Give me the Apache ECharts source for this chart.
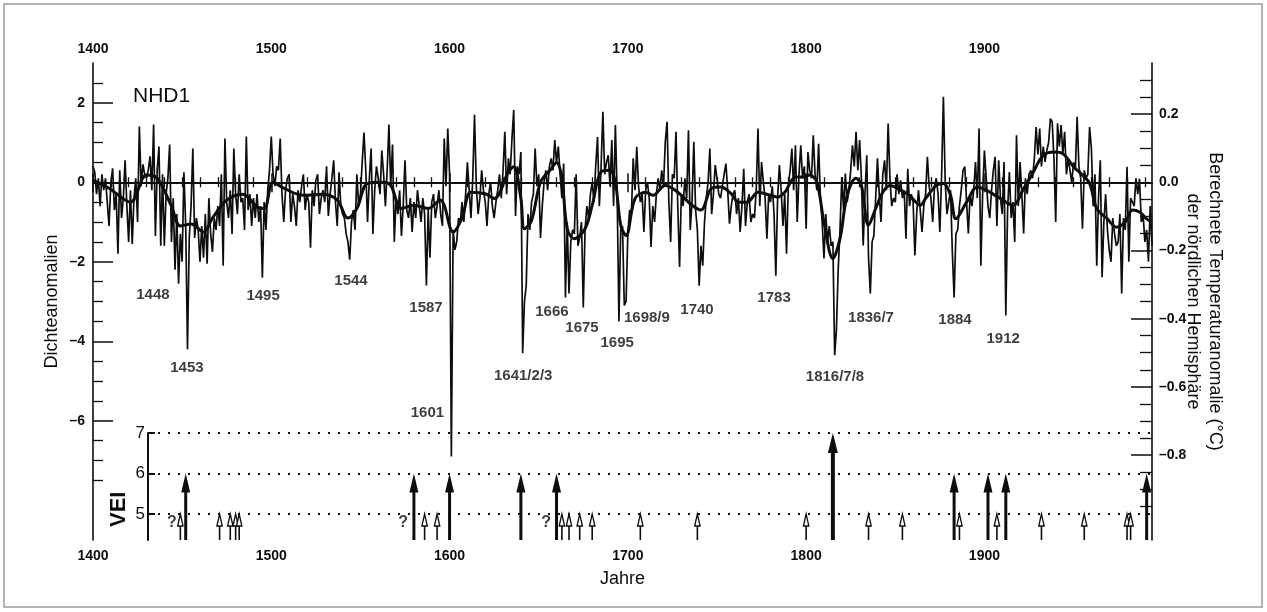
<!DOCTYPE html>
<html>
<head>
<meta charset="utf-8">
<script src="https://cdn.jsdelivr.net/npm/echarts@6/dist/echarts.min.js"></script>
<style>
  html, body { margin: 0; padding: 0; background: #fff; }
  #chart { width: 1267px; height: 612px; }
</style>
</head>
<body>
<div id="chart"></div>
<script>
// Jahreswerte der Dichteanomalien (NHD1), 1400 bis 1994
const startYear = 1400;
const density = [
  0.4, 0.25, -0.3, 0.1, -0.6, 0.2, -0.2, 0.1, -0.5, -1.1,        // 1400
  0.0, 0.35, -0.7, -0.3, -1.8, 0.3, -0.9, -0.4, 0.55, -0.6,      // 1410
  -1.5, -0.2, -1.55, -0.4, 0.1, -1.0, 1.4, -0.1, 0.45, 0.2,      // 1420
  0.1, 0.3, 0.65, -0.2, 1.45, -1.35, 0.3, 0.9, -1.6, 0.2,        // 1430
  -1.6, -0.3, 0.1, 0.95, -1.5, -0.4, -2.2, -0.8, -2.55, -1.3,    // 1440
  -2.0, 0.25, -1.1, -4.2, -1.4, -0.6, 0.85, -1.4, -0.9, -1.2,    // 1450
  -2.0, -1.1, -1.9, -0.8, -2.05, -0.4, -1.3, -1.75, -0.9, -1.2,  // 1460
  -0.6, -1.1, 0.2, -2.1, 1.1, -0.5, -0.9, -0.2, -1.3, 0.85,      // 1470
  -0.3, -0.8, 0.2, -0.5, -0.4, -1.2, 1.15, -0.7, -0.3, -1.1,     // 1480
  -0.4, -0.9, -0.3, -1.0, -0.6, -2.4, -0.5, -1.2, -0.2, 0.3,     // 1490
  1.15, 0.2, -0.1, 0.4, 0.3, 1.1, -0.3, -1.0, -0.2, 0.1,         // 1500
  0.2, -1.0, -0.3, -0.6, -1.1, -0.2, -0.5, -0.1, 0.2, -0.7,      // 1510
  -0.3, -0.5, -1.65, -0.2, -0.6, 0.05, 0.2, -0.8, -0.4, -0.2,    // 1520
  -0.5, 0.4, -0.85, -0.3, 0.1, 0.55, -0.5, -1.1, 0.25, -0.6,     // 1530
  -0.8, -0.9, -1.3, -1.5, -1.95, -1.0, -0.7, -1.2, 0.2, -0.6,    // 1540
  -0.3, 0.5, 1.25, 0.3, -1.0, 0.1, 0.85, -1.3, -0.2, 0.4,        // 1550
  0.1, -0.3, 0.8, 0.2, -0.6, 0.3, 1.45, -0.1, 0.95, -1.5,        // 1560
  -0.4, -0.8, -0.2, -1.35, -0.6, 0.55, -0.7, -0.9, -0.4, -1.25,  // 1570
  -0.5, -0.9, -0.2, -0.6, -1.0, -0.4, -0.8, -2.6, -0.7, -1.9,    // 1580
  -0.5, -0.3, -0.9, -0.6, -0.2, -0.8, -1.1, 1.1, -0.1, 1.35,     // 1590
  0.2, -6.9, -1.2, -1.7, -1.5, -0.9, -1.0, -0.5, -1.0, -0.3,     // 1600
  0.5, -0.2, -0.9, 0.1, 1.7, -0.1, -0.8, -0.4, 0.3, -0.2,        // 1610
  -0.5, -1.1, -0.3, 0.0, -0.6, -0.9, -0.5, -0.2, 0.2, -0.4,      // 1620
  0.3, 1.27, -0.3, 0.6, 0.2, 1.1, 1.82, -0.85, 0.4, 0.2,         // 1630
  0.76, -4.3, -3.0, -2.6, -0.8, -1.2, -0.5, -0.3, 0.85, -0.1,    // 1640
  0.2, -1.4, -0.6, 0.0, 0.3, -0.2, 0.4, 0.6, 0.3, 1.06,          // 1650
  0.5, 0.9, 0.2, -0.4, 0.47, -2.9, -1.0, -2.8, -1.5, -1.2,       // 1660
  -1.3, 0.2, -1.6, -1.4, -1.0, -3.15, -1.2, -0.6, -0.9, -0.3,    // 1670
  0.0, -0.5, 0.43, 1.14, -0.6, 0.4, 1.77, 0.2, 0.5, 0.68,        // 1680
  -0.1, 1.06, -0.6, 1.44, -0.3, -3.5, -1.2, -1.1, -3.1, -3.0,    // 1690
  -1.3, -0.7, -0.8, 0.6, -0.2, 0.89, -0.1, -0.5, -0.3, -1.25,    // 1700
  -0.2, 0.0, -0.4, -1.63, -0.6, -1.0, -0.3, 0.1, -0.2, 0.3,      // 1710
  -0.1, 1.02, 1.52, -0.5, -1.5, 0.2, 0.1, 1.27, -0.6, -2.13,     // 1720
  -0.3, -0.6, 0.1, -0.4, 1.31, -1.2, -0.5, 1.02, -0.7, -1.2,     // 1730
  -2.6, -1.6, -2.1, -1.0, -0.4, 0.0, 0.85, -0.8, -0.3, 0.43,     // 1740
  0.1, -0.3, -0.4, -0.1, 0.2, 0.47, -0.2, -1.04, -0.6, -0.3,     // 1750
  -0.2, -0.8, -0.4, -1.25, -0.6, 0.34, -1.1, -0.5, -0.3, -1.0,   // 1760
  -0.8, -0.9, -0.2, 1.35, -0.6, 0.51, 0.0, -0.4, -1.42, -0.3,    // 1770
  -0.5, -0.1, -0.8, -2.35, -0.4, 0.43, -0.2, -1.1, -0.3, -1.8,   // 1780
  -0.1, 0.3, 0.85, -0.2, 0.93, -1.0, 0.2, 0.93, 0.1, 0.4,        // 1790
  -1.17, 0.76, 0.3, 0.1, 1.18, 0.2, -0.2, 0.97, -0.4, -1.0,      // 1800
  -1.92, -0.8, -1.5, -1.1, -1.6, -1.5, -4.35, -3.7, -2.18, -1.2, // 1810
  0.13, -0.7, 0.22, -0.5, -0.2, 0.3, 0.93, 0.4, 1.27, 0.3,       // 1820
  1.06, 0.1, -1.59, -0.3, 0.68, -1.9, -2.8, -1.5, -1.34, -0.4,   // 1830
  0.6, -0.3, -1.0, 0.2, 0.55, -0.2, 1.48, 0.1, -0.6, -0.4,       // 1840
  -0.5, 0.2, -0.3, 0.05, -0.4, -0.2, -1.42, 0.34, -0.6, -0.3,    // 1850
  -0.5, -1.84, -0.8, -0.2, -0.7, -1.25, -0.6, -0.3, 0.64, -0.1,  // 1860
  -0.4, -1.0, -0.1, 0.1, -0.3, -1.25, 0.2, 2.15, 0.0, -0.8,      // 1870
  -0.5, -0.2, -1.75, -2.9, -1.3, -1.2, -0.6, -0.2, 0.3, 0.39,    // 1880
  -0.5, -1.29, -0.3, -0.6, -0.2, 0.51, -0.4, 1.35, -2.1, -0.3,   // 1890
  0.8, 0.1, -0.6, -0.9, -0.2, 0.3, 0.64, -1.1, 0.55, -0.4,       // 1900
  -0.8, 0.51, -3.35, -0.7, 0.26, -0.9, -0.5, -1.5, 1.18, -0.6,   // 1910
  0.51, -0.3, -1.29, 0.1, -0.3, 0.2, 0.3, 0.1, 0.6, 1.39,        // 1920
  0.7, 1.35, 0.4, 0.9, 0.51, 0.8, 1.0, 1.6, 1.52, 0.6,           // 1930
  -1.0, 1.48, 0.9, 1.44, 0.7, 1.27, 0.2, 0.6, 0.3, 0.0,          // 1940
  0.5, 0.3, 1.65, 0.4, 0.1, -1.17, 0.3, 0.1, 0.2, 1.39,          // 1950
  0.85, -0.6, 0.2, -2.1, -0.4, 0.55, -2.39, -1.0, -0.3, -1.2,    // 1960
  -1.7, -2.0, -0.9, -1.3, -1.6, -1.5, -0.8, -2.8, -0.9, -1.2,    // 1970
  0.39, -2.0, -0.4, -0.5, -0.6, 0.1, -0.3, 0.09, -1.0, -0.8,     // 1980
  -1.5, -1.2, -2.0, -0.6, -1.6                                   // 1990
];

const smoothYears = [1400, 1409, 1421, 1430, 1436, 1444, 1449, 1455, 1462, 1467, 1475, 1484, 1492, 1496,
  1501, 1507, 1518, 1529, 1537, 1543, 1548, 1554, 1563, 1567, 1573, 1580, 1588, 1595, 1597, 1602, 1607,
  1612, 1620, 1625, 1633, 1636, 1640, 1642, 1646, 1651, 1657, 1660, 1663, 1666, 1670, 1676, 1680, 1685,
  1690, 1693, 1696, 1699, 1704, 1710, 1714, 1721, 1728, 1736, 1741, 1747, 1752, 1758, 1762, 1767, 1773,
  1780, 1784, 1788, 1794, 1798, 1802, 1806, 1810, 1815, 1819, 1823, 1828, 1831, 1835, 1839, 1843, 1847,
  1853, 1858, 1864, 1867, 1873, 1877, 1881, 1884, 1890, 1896, 1901, 1909, 1916, 1922, 1927, 1933, 1939,
  1944, 1950, 1955, 1959, 1963, 1969, 1974, 1979, 1983, 1987, 1991, 1994];
const smoothValues = [0.05, -0.15, -0.5, 0.18, 0.1, -0.6, -1.1, -1.05, -1.25, -0.9, -0.45, -0.3, -0.62, -0.66,
  0.0, -0.15, -0.33, -0.3, -0.45, -0.9, -0.66, -0.03, 0.0, -0.08, -0.66, -0.58, -0.66, -0.45, -0.58, -1.25, -0.9,
  -0.25, -0.29, -0.41, 0.26, 0.39, -0.41, -1.17, -0.96, 0.0, 0.34, 0.5, 0.1, -1.17, -1.42, -1.17, -0.58, 0.26,
  0.3, 0.0, -1.08, -1.34, -0.41, -0.25, -0.33, -0.08, -0.25, -0.58, -0.7, -0.15, -0.12, -0.29, -0.5, -0.5, -0.25,
  -0.33, -0.37, -0.25, 0.13, 0.13, 0.18, 0.0, -1.0, -1.92, -1.42, -0.33, 0.1, -0.08, -1.08, -0.66, -0.25, -0.08,
  -0.2, -0.33, -0.58, -0.41, -0.08, -0.03, -0.33, -0.92, -0.5, -0.12, -0.2, -0.41, -0.58, -0.16, 0.22, 0.68, 0.76,
  0.72, 0.39, 0.18, -0.03, -0.66, -0.92, -1.13, -1.0, -0.7, -0.75, -0.92, -1.0];

// Beschriftete Vulkanjahre (Text, Position in Jahr / Dichteanomalie)
const eventText = ['1448', '1453', '1495', '1544', '1587', '1601', '1641/2/3', '1666', '1675', '1695',
  '1698/9', '1740', '1783', '1816/7/8', '1836/7', '1884', '1912'];
const eventYear = [1433.6, 1452.7, 1495.4, 1544.7, 1586.8, 1587.6, 1641.3, 1657.4, 1674.3, 1694.0,
  1710.7, 1738.8, 1782.0, 1816.2, 1836.4, 1883.5, 1910.5];
const eventLevel = [-2.84, -4.68, -2.87, -2.49, -3.17, -5.81, -4.86, -3.27, -3.67, -4.03,
  -3.4, -3.22, -2.92, -4.9, -3.4, -3.47, -3.95];

// Vulkanausbrüche: Jahr, VEI, gefüllter Pfeil (1) oder offener Pfeil (0)
const veiYears  = [1449, 1452, 1471, 1477, 1480, 1482, 1580, 1586, 1593, 1600, 1640, 1660, 1663, 1667, 1673,
  1680, 1707, 1739, 1800, 1815, 1835, 1854, 1883, 1886, 1902, 1907, 1912, 1932, 1956, 1980, 1982, 1991];
const veiValues = [5, 6, 5, 5, 5, 5, 6, 5, 5, 6, 6, 6, 5, 5, 5,
  5, 5, 5, 5, 7, 5, 5, 6, 5, 6, 5, 6, 5, 5, 5, 5, 6];
const veiFilled = [0, 1, 0, 0, 0, 0, 1, 0, 0, 1, 1, 1, 0, 0, 0,
  0, 0, 0, 0, 1, 0, 0, 1, 0, 1, 0, 1, 0, 0, 0, 0, 1];
const questionYears = [1444.3, 1573.9, 1654.1];
const questionLevel = [4.78, 4.78, 4.78];
const veiLevels = [5, 6, 7];

// Achsenbeschriftungen
const yearTicks = [1400, 1500, 1600, 1700, 1800, 1900];
const yearMinorTicks = [];
for (let y = 1410; y < 1994; y += 10) if (y % 100 !== 0) yearMinorTicks.push(y);
const densityTicks = [2, 0, -2, -4, -6];
const densityMinorTicks = [2.5, 1.5, 1, 0.5, -0.5, -1, -1.5, -2.5, -3, -3.5, -4.5, -5, -5.5, -6.5, -7, -7.5];
const tempTicks = [0.2, 0.0, -0.2, -0.4, -0.6, -0.8];
const tempMinorTicks = [0.3, 0.25, 0.15, 0.1, 0.05, -0.05, -0.1, -0.15, -0.25, -0.3, -0.35, -0.45, -0.5,
  -0.55, -0.65, -0.7, -0.75, -0.85, -0.9, -0.95];

const INK = '#0d0d0d';
const FONT = '"Liberation Sans", Arial, Helvetica, sans-serif';
const DENS_MIN = -9, DENS_MAX = 3;
const TEMP_PER_DENS = 0.11657;
const VEI_MIN = 4.358;

const densityData = density.map((v, i) => [startYear + i, v]);
const smoothData = smoothYears.map((y, i) => [y, smoothValues[i]]);
const eventData = eventText.map((t, i) => ({ name: t, value: [eventYear[i], eventLevel[i]] }));
const veiData = veiYears.map((y, i) => [y, veiValues[i], veiFilled[i]]);
const questionData = questionYears.map((y, i) => [y, questionLevel[i]]);

const dash = (v) => (v < 0 ? '\u2013' : '');

function renderArrow(params, api) {
  const tip = api.coord([api.value(0), api.value(1)]);
  const baseY = params.coordSys.y + params.coordSys.height;
  const x = tip[0];
  if (api.value(2)) {
    const big = api.value(1) >= 7;
    const hw = big ? 5 : 4.5;
    const hl = big ? 20 : 19;
    return {
      type: 'group',
      children: [
        { type: 'line', shape: { x1: x, y1: baseY, x2: x, y2: tip[1] + hl - 2 },
          style: { stroke: INK, lineWidth: big ? 4 : 3 } },
        { type: 'polygon', shape: { points: [[x, tip[1]], [x - hw, tip[1] + hl], [x + hw, tip[1] + hl]] },
          style: { fill: INK } }
      ]
    };
  }
  return {
    type: 'group',
    children: [
      { type: 'line', shape: { x1: x, y1: baseY, x2: x, y2: tip[1] + 10 },
        style: { stroke: INK, lineWidth: 1.6 } },
      { type: 'polygon', shape: { points: [[x, tip[1]], [x - 2.7, tip[1] + 12], [x + 2.7, tip[1] + 12]] },
        style: { fill: '#fff', stroke: INK, lineWidth: 1.3 } }
    ]
  };
}

const chart = echarts.init(document.getElementById('chart'), null, { renderer: 'canvas' });

const axisLineStyle = { color: INK, width: 1.6 };
const labelStyle = { color: INK, fontFamily: FONT, fontSize: 14, fontWeight: 'bold' };

const option = {
  animation: false,
  backgroundColor: '#fff',
  grid: [
    { left: 93, right: 115, top: 63, bottom: 72 },
    { left: 148, right: 115, top: 433, bottom: 72 }
  ],
  xAxis: [
    { // oben: Jahreszahlen
      gridIndex: 0, type: 'value', position: 'top', min: 1400, max: 1994,
      axisLine: { lineStyle: axisLineStyle },
      axisTick: { inside: true, length: 10, customValues: yearTicks, lineStyle: { color: INK, width: 1.5 } },
      axisLabel: Object.assign({ customValues: yearTicks, margin: 7, formatter: (v) => String(v) }, labelStyle),
      splitLine: { show: false }
    },
    { // oben: Dekaden
      gridIndex: 0, type: 'value', position: 'top', min: 1400, max: 1994,
      axisLine: { show: false },
      axisTick: { inside: true, length: 5, customValues: yearMinorTicks, lineStyle: { color: INK, width: 1.3 } },
      axisLabel: { show: false }, splitLine: { show: false }
    },
    { // unten: Jahreszahlen
      gridIndex: 0, type: 'value', position: 'bottom', min: 1400, max: 1994,
      name: 'Jahre', nameLocation: 'middle', nameGap: 30,
      nameTextStyle: { color: INK, fontFamily: FONT, fontSize: 18 },
      axisLine: { lineStyle: axisLineStyle },
      axisTick: { inside: true, length: 9, customValues: yearTicks, lineStyle: { color: INK, width: 1.5 } },
      axisLabel: Object.assign({ customValues: yearTicks, margin: 9, formatter: (v) => String(v) }, labelStyle),
      splitLine: { show: false }
    },
    { // unten: Dekaden
      gridIndex: 0, type: 'value', position: 'bottom', min: 1400, max: 1994,
      axisLine: { show: false },
      axisTick: { inside: true, length: 5, customValues: yearMinorTicks, lineStyle: { color: INK, width: 1.3 } },
      axisLabel: { show: false }, splitLine: { show: false }
    },
    { // VEI-Feld
      gridIndex: 1, type: 'value', min: 1400 + 55 / 1.7828, max: 1994, show: false
    }
  ],
  yAxis: [
    {
      gridIndex: 0, type: 'value', position: 'left', min: DENS_MIN, max: DENS_MAX,
      name: 'Dichteanomalien', nameLocation: 'middle', nameGap: 32, nameRotate: 90,
      nameMoveOverlap: false,
      nameTextStyle: { color: INK, fontFamily: FONT, fontSize: 18 },
      axisLine: { show: true, lineStyle: axisLineStyle },
      axisTick: { inside: true, length: 20, customValues: densityTicks, lineStyle: { color: INK, width: 1.5 } },
      axisLabel: Object.assign({ customValues: densityTicks, margin: 8,
        formatter: (v) => dash(v) + Math.abs(v) }, labelStyle),
      splitLine: { show: false }
    },
    {
      gridIndex: 0, type: 'value', position: 'right',
      min: DENS_MIN * TEMP_PER_DENS, max: DENS_MAX * TEMP_PER_DENS,
      name: 'Berechnete Temperaturanomalie (\u00B0C)\nder n\u00F6rdlichen Hemisph\u00E4re',
      nameLocation: 'middle', nameGap: 30, nameRotate: -90,
      nameMoveOverlap: false,
      nameTextStyle: { color: INK, fontFamily: FONT, fontSize: 18, lineHeight: 22 },
      axisLine: { show: true, lineStyle: axisLineStyle },
      axisTick: { inside: true, length: 21, customValues: tempTicks, lineStyle: { color: INK, width: 1.5 } },
      axisLabel: Object.assign({ customValues: tempTicks, margin: 7,
        formatter: (v) => dash(v) + Math.abs(v).toFixed(1) }, labelStyle),
      splitLine: { show: false }
    },
    {
      gridIndex: 0, type: 'value', position: 'left', min: DENS_MIN, max: DENS_MAX,
      axisLine: { show: false },
      axisTick: { inside: true, length: 10, customValues: densityMinorTicks, lineStyle: { color: INK, width: 1.3 } },
      axisLabel: { show: false }, splitLine: { show: false }
    },
    {
      gridIndex: 0, type: 'value', position: 'right',
      min: DENS_MIN * TEMP_PER_DENS, max: DENS_MAX * TEMP_PER_DENS,
      axisLine: { show: false },
      axisTick: { inside: true, length: 12, customValues: tempMinorTicks, lineStyle: { color: INK, width: 1.3 } },
      axisLabel: { show: false }, splitLine: { show: false }
    },
    {
      gridIndex: 1, type: 'value', position: 'left', min: VEI_MIN, max: 7,
      axisLine: { show: true, lineStyle: { color: INK, width: 2 } },
      axisTick: { inside: true, length: 7, customValues: veiLevels, lineStyle: { color: INK, width: 2 } },
      axisLabel: { customValues: veiLevels, margin: 3, color: INK, fontFamily: FONT, fontSize: 17 },
      splitLine: { show: false }
    }
  ],
  graphic: [
    { type: 'rect', shape: { x: 4, y: 4, width: 1258, height: 603 }, silent: true,
      style: { fill: 'none', stroke: '#9a9a9a', lineWidth: 1.5 } },
    { type: 'text', left: 133, top: 86, silent: true,
      style: { text: 'NHD1', fill: INK, font: '21px ' + FONT } },
    { type: 'text', x: 108, y: 527, rotation: Math.PI / 2, silent: true,
      style: { text: 'VEI', fill: INK, font: 'bold 22px ' + FONT } }
  ],
  series: [
    {
      type: 'line', xAxisIndex: 0, yAxisIndex: 0, data: densityData,
      symbol: 'none', lineStyle: { color: INK, width: 1.7 }, z: 2
    },
    {
      type: 'line', xAxisIndex: 0, yAxisIndex: 0, data: smoothData, smooth: 0.35,
      symbol: 'none', lineStyle: { color: INK, width: 3 }, z: 3,
      markLine: {
        silent: true, symbol: 'none', label: { show: false },
        lineStyle: { color: INK, width: 1.6, type: 'solid' },
        data: [{ yAxis: 0 }]
      }
    },
    {
      type: 'scatter', xAxisIndex: 0, yAxisIndex: 0, data: eventData,
      symbolSize: 0, silent: true, z: 4,
      label: { show: true, position: 'inside', formatter: (p) => p.name,
        color: INK, fontFamily: FONT, fontSize: 15, fontWeight: 'bold' }
    },
    {
      type: 'custom', xAxisIndex: 4, yAxisIndex: 4, data: veiData, renderItem: renderArrow,
      clip: false, z: 5,
      markLine: {
        silent: true, symbol: 'none', label: { show: false },
        lineStyle: { color: INK, width: 2.2, type: [2, 8] },
        data: veiLevels.map((v) => ({ yAxis: v }))
      }
    },
    {
      type: 'scatter', xAxisIndex: 4, yAxisIndex: 4, data: questionData,
      symbolSize: 0, silent: true,
      label: { show: true, position: 'inside', formatter: '?', color: INK,
        fontFamily: FONT, fontSize: 16, fontWeight: 'bold' }
    }
  ]
};

chart.setOption(option);
</script>
</body>
</html>
